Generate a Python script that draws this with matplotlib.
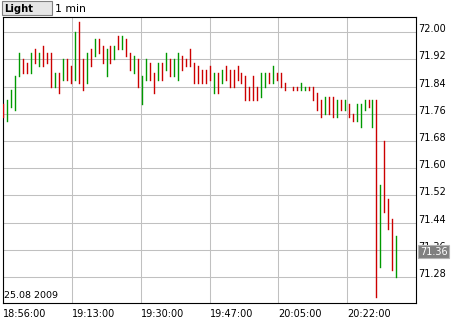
import matplotlib
matplotlib.use("Agg")
import matplotlib.pyplot as plt
from matplotlib.patches import Rectangle
from matplotlib.transforms import blended_transform_factory, ScaledTranslation
import numpy as np

symbol = "Light"
interval = "1 min"
date_label = "25.08 2009"
time_labels = ["18:56:00", "19:13:00", "19:30:00", "19:47:00", "20:05:00", "20:22:00"]
price_ticks = [71.28, 71.36, 71.44, 71.52, 71.60, 71.68, 71.76, 71.84, 71.92, 72.00]
last_price = 71.36

highs = [71.79, 71.80, 71.83, 71.87, 71.94, 71.92, 71.91, 71.94, 71.95, 71.94,
         71.96, 71.94, 71.94, 71.88, 71.88, 71.92, 71.92, 71.90, 72.00, 72.03,
         71.92, 71.94, 71.95, 71.98, 71.98, 71.96, 71.95, 71.96, 71.96, 71.99,
         71.99, 71.98, 71.94, 71.93, 71.92, 71.87, 71.92, 71.91, 71.88, 71.91,
         71.91, 71.94, 71.92, 71.92, 71.94, 71.93, 71.92, 71.95, 71.91, 71.90,
         71.89, 71.89, 71.90, 71.88, 71.88, 71.89, 71.90, 71.89, 71.89, 71.90,
         71.88, 71.87, 71.84, 71.87, 71.84, 71.88, 71.88, 71.88, 71.90, 71.88,
         71.88, 71.85, 71.84, 71.84, 71.84, 71.85, 71.84, 71.84, 71.84, 71.82,
         71.80, 71.81, 71.81, 71.81, 71.80, 71.80, 71.80, 71.79, 71.76, 71.79,
         71.79, 71.80, 71.80, 71.80, 71.80, 71.55, 71.68, 71.51, 71.45, 71.40]
lows = [71.75, 71.74, 71.78, 71.77, 71.87, 71.88, 71.88, 71.88, 71.91, 71.90,
        71.90, 71.91, 71.84, 71.84, 71.82, 71.86, 71.86, 71.85, 71.86, 71.85,
        71.83, 71.85, 71.90, 71.93, 71.94, 71.91, 71.87, 71.91, 71.92, 71.95,
        71.95, 71.93, 71.89, 71.88, 71.84, 71.79, 71.86, 71.86, 71.82, 71.86,
        71.86, 71.89, 71.87, 71.87, 71.86, 71.89, 71.90, 71.90, 71.85, 71.85,
        71.85, 71.85, 71.86, 71.82, 71.82, 71.85, 71.86, 71.84, 71.84, 71.86,
        71.85, 71.80, 71.80, 71.80, 71.80, 71.81, 71.84, 71.85, 71.85, 71.86,
        71.84, 71.83, 71.84, 71.83, 71.83, 71.83, 71.83, 71.83, 71.80, 71.77,
        71.75, 71.76, 71.76, 71.75, 71.75, 71.77, 71.77, 71.75, 71.74, 71.74,
        71.72, 71.77, 71.78, 71.72, 71.22, 71.31, 71.47, 71.42, 71.30, 71.28]
direction = ["d", "u", "u", "u", "u", "d", "d", "u", "d", "u",
             "d", "d", "d", "u", "d", "u", "d", "d", "u", "d",
             "d", "u", "d", "u", "d", "d", "u", "d", "u", "d",
             "u", "d", "d", "u", "d", "u", "u", "d", "d", "u",
             "d", "u", "d", "u", "u", "d", "d", "d", "d", "d",
             "d", "d", "d", "u", "d", "u", "d", "d", "d", "d",
             "d", "d", "d", "d", "d", "u", "u", "d", "u", "d",
             "d", "d", "d", "d", "d", "u", "u", "d", "d", "d",
             "d", "u", "d", "d", "u", "d", "u", "d", "d", "u",
             "u", "u", "d", "u", "d", "u", "d", "d", "d", "u"]

UP_COLOR = "#009900"
DOWN_COLOR = "#cc0000"

W, H = 460, 320
fig = plt.figure(figsize=(W / 100, H / 100), dpi=100)
fig.patch.set_facecolor("white")
ax = fig.add_axes([3 / W, 17 / H, 413 / W, 286 / H])

x = np.arange(len(highs))
colors = [DOWN_COLOR if d == "d" else UP_COLOR for d in direction]
lc = ax.vlines(x, lows, highs, colors=colors, linewidth=1.0, zorder=3)
lc.set_capstyle("projecting")

ax.set_xlim(-0.08, 103.96)
ax.set_ylim(71.2035, 72.045)

x0, x1 = ax.get_xlim()
ax.set_xticks([x0 + k * (x1 - x0) / 6 for k in range(6)])
ax.set_xticklabels(time_labels, ha="left")
ax.set_yticks(price_ticks)
ax.set_yticklabels([f"{v:.2f}" for v in price_ticks])
ax.yaxis.tick_right()
ax.tick_params(axis="both", length=0, labelsize=7, colors="black")
ax.tick_params(axis="y", pad=1.5)
ax.tick_params(axis="x", pad=4)
for t in ax.yaxis.get_major_ticks():
    t.label2.set_verticalalignment("baseline")

ax.grid(True, color="#c0c0c0", linewidth=0.75)
ax.set_axisbelow(True)
for s in ax.spines.values():
    s.set_linewidth(0.8)
    s.set_color("black")

# last price marker
trans = blended_transform_factory(ax.transAxes, ax.transData) + \
    ScaledTranslation(2.7 / 72, -1.5 / 72, fig.dpi_scale_trans)
ax.text(1.0, last_price, f"{last_price:.2f}", transform=trans, ha="left", va="center",
        fontsize=7, color="white", clip_on=False, zorder=5,
        bbox=dict(boxstyle="square,pad=0.15", fc="#808080", ec="#b4b4b4", lw=0.8))

# date label inside the plot
ax.text(0.002, 5 / 286, date_label, transform=ax.transAxes, ha="left", va="baseline",
        fontsize=6.8, color="black")

# header
fig.patches.append(Rectangle((2 / W, 1 - 15 / H), 50 / W, 14 / H, transform=fig.transFigure,
                             facecolor="#e6e6e6", edgecolor="#808080", linewidth=0.8))
fig.text(4 / W, 1 - 8.5 / H, symbol, fontsize=7.2, fontweight="bold", va="center", ha="left")
fig.text(55 / W, 1 - 8.5 / H, interval, fontsize=7.8, va="center", ha="left")

fig.savefig("out.png", dpi=100)
